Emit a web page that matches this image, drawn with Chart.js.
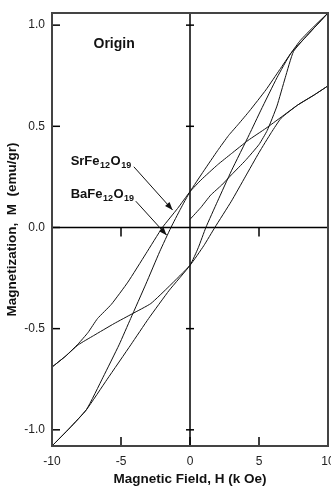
<!DOCTYPE html>
<html>
<head>
<meta charset="utf-8">
<script src="https://cdn.jsdelivr.net/npm/chart.js@4"></script>
<style>
html, body { margin: 0; padding: 0; background: #fff; overflow: hidden; }
#myChart { display: block; }
</style>
</head>
<body>
<canvas id="myChart" width="331" height="489"></canvas>
<script>
// field H (kOe) and magnetization M (emu/gr)
const srDescH = [10, 9, 8, 7.3, 6.5, 5.5, 4.3, 3.5, 2.8, 2, 1, 0, -0.7, -1.38, -2.2, -3.2, -4.3, -5.14, -6.3, -7.5, -8.7, -10]
const srDescM = [1.06, 0.995, 0.925, 0.86, 0.78, 0.68, 0.575, 0.51, 0.455, 0.38, 0.28, 0.177, 0.09, 0, -0.12, -0.28, -0.45, -0.58, -0.74, -0.9, -0.99, -1.08]

const srAscH = [-10, -8.7, -7.5, -6, -4.29, -3, -1.5, 0, 0.6, 1.15, 2, 3, 4.3, 5.14, 6.3, 7.3, 8.5, 10]
const srAscM = [-1.08, -0.99, -0.9, -0.75, -0.58, -0.45, -0.31, -0.187, -0.1, 0, 0.13, 0.28, 0.46, 0.58, 0.74, 0.86, 0.95, 1.06]

const baDescH = [10, 9, 7.8, 6.6, 5.5, 4.2, 3, 2, 0.8, 0, -0.9, -2, -3.2, -4.5, -5.7, -6.7, -7.4, -8.1, -9, -10]
const baDescM = [0.7, 0.655, 0.605, 0.545, 0.49, 0.43, 0.365, 0.31, 0.235, 0.177, 0.094, 0, -0.13, -0.27, -0.38, -0.45, -0.52, -0.575, -0.635, -0.69]

const baAscH = [-10, -9, -8.1, -7, -5.5, -4.17, -2.84, -1.5, 0, 1, 1.8, 3, 4, 5, 5.9, 6.6, 7.8, 9, 10]
const baAscM = [-0.69, -0.635, -0.58, -0.535, -0.475, -0.426, -0.376, -0.29, -0.187, -0.09, 0, 0.13, 0.25, 0.37, 0.47, 0.54, 0.605, 0.655, 0.7]

// initial curve starting near the origin
const virginH = [0, 0.8, 1.5, 2.3, 3, 4, 5, 5.6, 6.3, 6.9, 7.5, 8.5, 10]
const virginM = [0.04, 0.1, 0.16, 0.21, 0.26, 0.33, 0.41, 0.48, 0.6, 0.74, 0.87, 0.95, 1.06]

const xTicks = [-10, -5, 0, 5, 10]
const yTicks = [-1.0, -0.5, 0.0, 0.5, 1.0]

const pts = (hs, ms) => hs.map((h, i) => ({x: h, y: ms[i]}))

const curve = (hs, ms) => ({
    data: pts(hs, ms),
    showLine: true,
    borderColor: '#111',
    borderWidth: 1,
    pointRadius: 0,
    tension: 0.15,
    fill: false
})

const data = {
    datasets: [
        curve(srDescH, srDescM),
        curve(srAscH, srAscM),
        curve(baDescH, baDescM),
        curve(baAscH, baAscM),
        curve(virginH, virginM)
    ]
}

function seg(ctx, x1, y1, x2, y2) {
    ctx.beginPath()
    ctx.moveTo(x1, y1)
    ctx.lineTo(x2, y2)
    ctx.stroke()
}

function arrow(ctx, x1, y1, x2, y2) {
    seg(ctx, x1, y1, x2, y2)
    const a = Math.atan2(y2 - y1, x2 - x1)
    ctx.beginPath()
    ctx.moveTo(x2, y2)
    ctx.lineTo(x2 - 8 * Math.cos(a) + 3 * Math.sin(a), y2 - 8 * Math.sin(a) - 3 * Math.cos(a))
    ctx.lineTo(x2 - 8 * Math.cos(a) - 3 * Math.sin(a), y2 - 8 * Math.sin(a) + 3 * Math.cos(a))
    ctx.closePath()
    ctx.fill()
}

// formula with subscripts, parts = [text, isSub]
function chem(ctx, x, y, parts) {
    let cx = x
    for (const [t, sub] of parts) {
        ctx.font = sub ? 'bold 9px "Liberation Sans", Arial' : 'bold 13px "Liberation Sans", Arial'
        ctx.fillText(t, cx, sub ? y + 3 : y)
        cx += ctx.measureText(t).width + 0.5
    }
}

const axesPlugin = {
    id: 'axesPlugin',
    beforeDatasetsDraw(chart) {
        const {ctx, chartArea: a, scales: {x, y}} = chart
        const x0 = x.getPixelForValue(0)
        const y0 = y.getPixelForValue(0)
        ctx.save()
        ctx.strokeStyle = '#000'
        ctx.lineWidth = 1.5
        seg(ctx, x0, a.top, x0, a.bottom)
        seg(ctx, a.left, y0, a.right, y0)
        for (const v of yTicks) {
            const py = y.getPixelForValue(v)
            seg(ctx, a.left, py, a.left + 8, py)
            if (v !== 0) seg(ctx, x0 - 4, py, x0 + 4, py)
        }
        for (const v of xTicks) {
            const px = x.getPixelForValue(v)
            if (v !== -10 && v !== 10) seg(ctx, px, a.bottom, px, a.bottom - 9)
            if (v !== 0 && v !== -10) seg(ctx, px, y0, px, y0 + 9)
        }
        ctx.restore()
    },
    afterDatasetsDraw(chart) {
        const {ctx, chartArea: a, scales: {x, y}} = chart
        ctx.save()
        ctx.strokeStyle = '#444'
        ctx.lineWidth = 2
        ctx.strokeRect(a.left, a.top, a.right - a.left, a.bottom - a.top)

        ctx.fillStyle = '#111'
        ctx.strokeStyle = '#111'
        ctx.lineWidth = 1
        ctx.textBaseline = 'alphabetic'
        ctx.font = 'bold 14px "Liberation Sans", Arial'
        ctx.textAlign = 'center'
        ctx.fillText('Origin', x.getPixelForValue(-5.5), y.getPixelForValue(0.885))
        ctx.textAlign = 'left'
        chem(ctx, x.getPixelForValue(-8.65), y.getPixelForValue(0.31), [['SrFe', 0], ['12', 1], ['O', 0], ['19', 1]])
        chem(ctx, x.getPixelForValue(-8.65), y.getPixelForValue(0.148), [['BaFe', 0], ['12', 1], ['O', 0], ['19', 1]])

        arrow(ctx, x.getPixelForValue(-4.07), y.getPixelForValue(0.3), x.getPixelForValue(-1.26), y.getPixelForValue(0.086))
        arrow(ctx, x.getPixelForValue(-3.93), y.getPixelForValue(0.13), x.getPixelForValue(-1.69), y.getPixelForValue(-0.038))
        ctx.restore()
    }
}

const config = {
    type: 'scatter',
    data: data,
    options: {
        responsive: false,
        devicePixelRatio: 1,
        animation: false,
        layout: {padding: {left: 0, right: 3, top: 13, bottom: 0}},
        plugins: {legend: {display: false}, tooltip: {enabled: false}},
        scales: {
            x: {
                type: 'linear',
                min: -10,
                max: 10,
                grid: {display: false, drawTicks: false},
                border: {display: false},
                afterBuildTicks: s => { s.ticks = xTicks.map(v => ({value: v})) },
                afterFit: s => { s.height = 43; s.paddingLeft = 0; s.paddingRight = 0 },
                ticks: {
                    padding: 8,
                    color: '#222',
                    font: {family: '"Liberation Sans", Arial', size: 12},
                    callback: v => String(v)
                },
                title: {
                    display: true,
                    text: 'Magnetic Field, H (k Oe)',
                    color: '#111',
                    font: {family: '"Liberation Sans", Arial', size: 13.5, weight: 'bold'},
                    padding: {top: 2, bottom: 2}
                }
            },
            y: {
                type: 'linear',
                min: -1.08,
                max: 1.06,
                grid: {display: false, drawTicks: false},
                border: {display: false},
                afterBuildTicks: s => { s.ticks = yTicks.map(v => ({value: v})) },
                afterFit: s => { s.width = 52; s.paddingTop = 0; s.paddingBottom = 0 },
                ticks: {
                    padding: 7,
                    color: '#222',
                    font: {family: '"Liberation Sans", Arial', size: 12},
                    callback: v => v.toFixed(1)
                },
                title: {
                    display: true,
                    text: 'Magnetization,  M  (emu/gr)',
                    color: '#111',
                    font: {family: '"Liberation Sans", Arial', size: 13.5, weight: 'bold', lineHeight: 1},
                    padding: {top: 6, bottom: 0}
                }
            }
        }
    },
    plugins: [axesPlugin]
}

const myChart = new Chart(document.getElementById('myChart'), config)
</script>
</body>
</html>
